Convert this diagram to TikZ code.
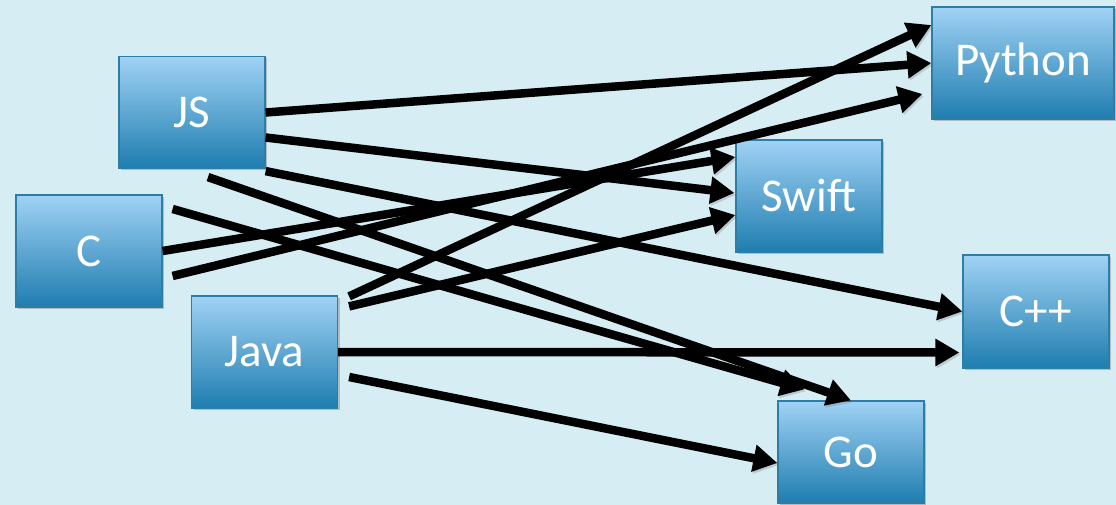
\documentclass[tikz,border=0pt]{standalone}
\usepackage{fontspec}
\setmainfont{Carlito}
\usetikzlibrary{calc,arrows.meta,shadows}
\definecolor{bg}{RGB}{214,237,244}
\definecolor{boxtop}{RGB}{160,210,245}
\definecolor{boxbot}{RGB}{30,125,175}
\definecolor{boxline}{RGB}{45,125,165}
\tikzset{
  lang/.style={draw=boxline, line width=1.2pt, top color=boxtop, bottom color=boxbot,
    minimum width=146pt, minimum height=112pt, inner sep=0pt, text=white,
    font=\fontsize{47}{50}\selectfont,
    drop shadow={shadow xshift=2pt, shadow yshift=-2pt, opacity=0.35, fill=black!60}},
  link/.style={line width=8.5pt, -{Triangle[length=24pt,width=26pt]},
    preaction={draw=black!60, opacity=0.25, transform canvas={shift={(1.5pt,-2pt)}}}}
}
\begin{document}
\begin{tikzpicture}[x=1pt,y=-1pt]
\fill[bg] (0,0) rectangle (1116,505);
\useasboundingbox (0,0) rectangle (1116,505);
\node[lang] (JS) at (192,112.5) {JS};
\node[lang] (C) at (89,251) {C};
\node[lang] (Java) at (264.5,352) {Java};
\node[lang, minimum width=182pt] (Python) at (1023,63) {Python};
\node[lang] (Swift) at (809,196) {Swift};
\node[lang, minimum height=113pt] (Cpp) at (1036,311.5) {C++};
\node[lang, minimum height=102pt] (Go) at (851,452) {Go};
% start and end points
\coordinate (js2) at ($(JS.east)+(0,25)$);
\coordinate (js3) at ($(JS.south east)+(0,2)$);
\coordinate (js4) at ($(JS.south)+(16,8)$);
\coordinate (c6) at ($(C.east)+(10,25)$);
\coordinate (c7) at ($(C.east)+(10,-42)$);
\coordinate (jv8) at ($(Java.north east)+(11,1)$);
\coordinate (jv9) at ($(Java.north east)+(11,11)$);
\coordinate (jv11) at ($(Java.east)+(11,25)$);
\coordinate (sw5) at ($(Swift.west)+(0,-39)$);
\coordinate (sw9) at ($(Swift.west)+(0,19)$);
\coordinate (sw2) at ($(Swift.west)+(-1,-3)$);
\coordinate (py6) at ($(Python.west)+(-9,31)$);
\coordinate (py8) at ($(Python.west)+(0,-38)$);
\coordinate (cp10) at ($(Cpp.west)+(-3,41)$);
\coordinate (go7) at ($(Go.north west)+(27,-11)$);
\coordinate (go11) at ($(Go.west)+(0,11)$);
\draw[link] (JS.east) -- (Python.west);
\draw[link] (js2) -- (sw2);
\draw[link] (js3) -- (Cpp.west);
\draw[link] (js4) -- (Go.north);
\draw[link] (C.east) -- (sw5);
\draw[link] (c6) -- (py6);
\draw[link] (c7) -- (go7);
\draw[link] (jv8) -- (py8);
\draw[link] (jv9) -- (sw9);
\draw[link] (Java.east) -- (cp10);
\draw[link] (jv11) -- (go11);
\end{tikzpicture}
\end{document}
